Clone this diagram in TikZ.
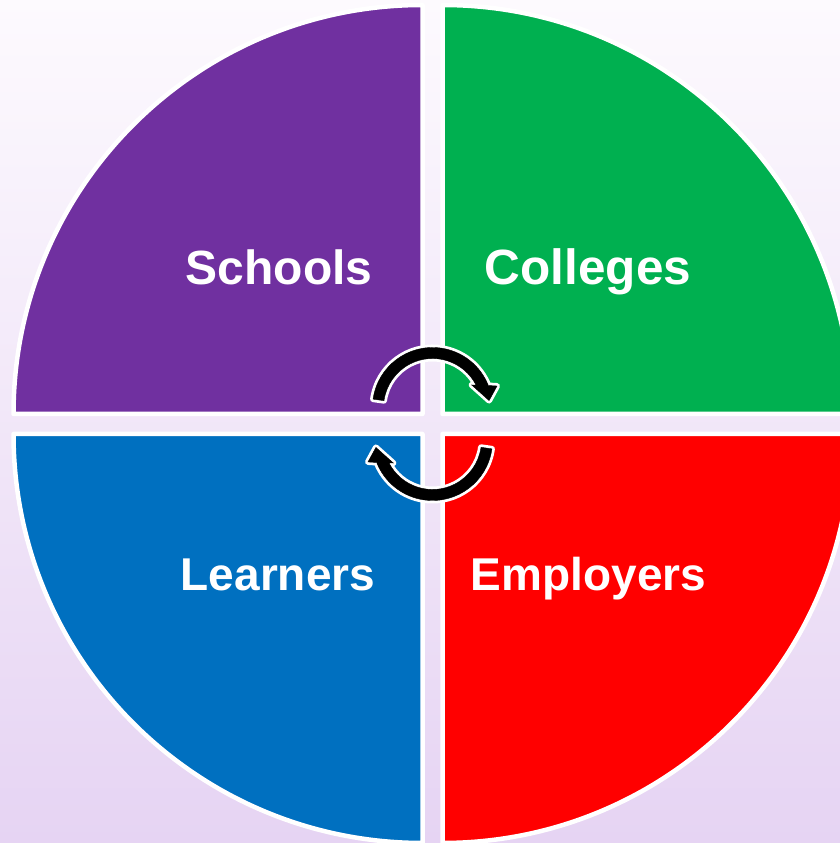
\documentclass[tikz,border=0pt]{standalone}
\usepackage{fontspec}
\setmainfont{Liberation Sans}
\usepackage{xcolor}
\usepackage{tikz}

\definecolor{schoolpurple}{HTML}{7030A0}
\definecolor{collegegreen}{HTML}{00B050}
\definecolor{learnerblue}{HTML}{0070C0}
\definecolor{employerred}{HTML}{FF0000}
\definecolor{lavtop}{HTML}{FDFAFE}
\definecolor{lavmid}{HTML}{F4EAFB}
\definecolor{lavbot}{HTML}{E6D4F3}

\tikzset{
  quadrant/.style={draw=white, line width=4.5pt, line join=round},
  quadlabel/.style={text=white, font=\bfseries\fontsize{#1}{#1}\selectfont, inner sep=0pt, anchor=base},
  quadlabel/.default=48,
  cycarrow/.style={fill=black, preaction={draw=white, fill=white, line width=6pt, line join=round}}
}

\begin{document}
\begin{tikzpicture}[x=1pt, y=1pt]
    \useasboundingbox (0,0) rectangle (840,843);
    \clip (0,0) rectangle (840,843);
    \shade[top color=lavtop, middle color=lavmid, bottom color=lavbot] (0,0) rectangle (840,843);

    \coordinate (TL) at (422.5,429);
    \coordinate (TR) at (442.5,429);
    \coordinate (BL) at (422.5,409);
    \coordinate (BR) at (442.5,409);
    \coordinate (ctop) at (432.5,435.5);
    \coordinate (cbot) at (432.5,402.5);

    \draw[quadrant, fill=schoolpurple]
    (TL) -- ++(-409,0) arc[start angle=180, end angle=90, radius=409] -- cycle;
    \draw[quadrant, fill=collegegreen]
    (TR) -- ++(0,409) arc[start angle=90, end angle=0, radius=409] -- cycle;
    \draw[quadrant, fill=learnerblue]
    (BL) -- ++(0,-409) arc[start angle=270, end angle=180, radius=409] -- cycle;
    \draw[quadrant, fill=employerred]
    (BR) -- ++(409,0) arc[start angle=0, end angle=-90, radius=409] -- cycle;

    \node[quadlabel=48] (schools)   at (279,558) {Schools};
    \node[quadlabel=49.5] (colleges)  at (588,558) {Colleges};
    \node[quadlabel=46] (learners)  at (278,252) {Learners};
    \node[quadlabel=46] (employers) at (588.5,252) {Employers};

    \draw[cycarrow, shift={(ctop)}]
    (172:60) arc[start angle=172, end angle=21.5, radius=60] -- (18.4:68) -- (7:57)
    -- (29.9:45.2) -- (27.1:49) arc[start angle=27.1, end angle=172, radius=49] -- cycle;
    \draw[cycarrow, shift={(cbot)}, rotate=180]
    (172:60) arc[start angle=172, end angle=21.5, radius=60] -- (18.4:68) -- (7:57)
    -- (29.9:45.2) -- (27.1:49) arc[start angle=27.1, end angle=172, radius=49] -- cycle;
\end{tikzpicture}
\end{document}
